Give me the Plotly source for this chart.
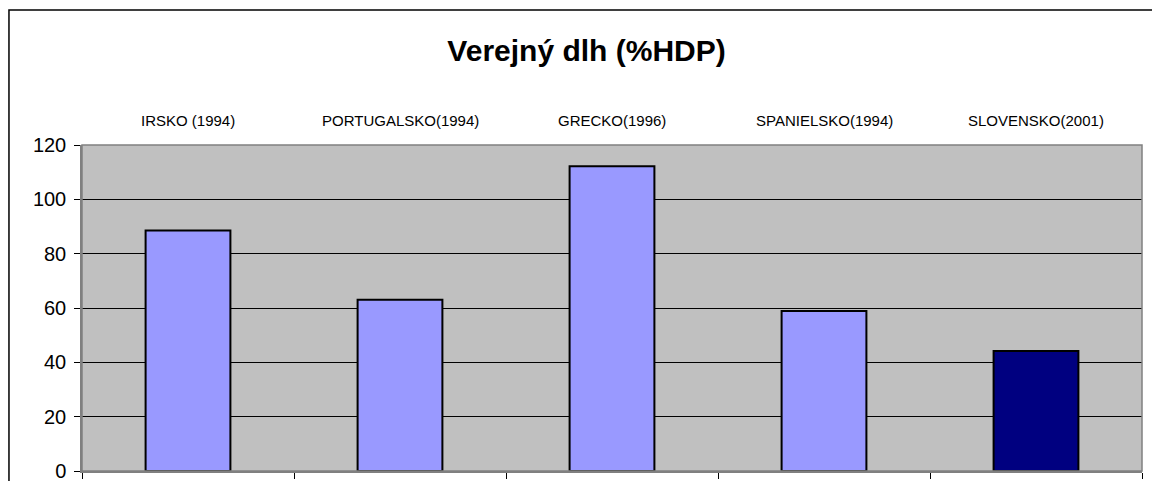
import plotly.graph_objects as go

categories = ["IRSKO (1994)", "PORTUGALSKO(1994)", "GRECKO(1996)", "SPANIELSKO(1994)", "SLOVENSKO(2001)"]
values = [88.5, 63.0, 112.2, 58.9, 44.2]
bar_colors = ["#9999FF", "#9999FF", "#9999FF", "#9999FF", "#000080"]
y_ticks = [0, 20, 40, 60, 80, 100, 120]
title_text = "Verejný dlh (%HDP)"

FONT = "Liberation Sans, Arial, sans-serif"

FIG_W, FIG_H = 1152, 481

fig = go.Figure()
fig.add_trace(go.Bar(
    x=categories, y=values,
    marker=dict(color=bar_colors, line=dict(color="#000000", width=2)),
    hoverinfo="x+y",
))

# category labels above the plot area
for c in categories:
    fig.add_annotation(x=c, y=1.074, xref="x", yref="paper", text=c,
                       showarrow=False, font=dict(family=FONT, size=15, color="#000000"),
                       xanchor="center", yanchor="middle")

# plot frame (gray)
fig.add_shape(type="rect", xref="paper", yref="paper", x0=0, x1=1, y0=0, y1=1,
              line=dict(color="#808080", width=1.5), fillcolor="rgba(0,0,0,0)", layer="above")
# outer chart border (cropped on right/bottom)
fig.add_shape(type="rect", xref="paper", yref="paper", x0=-0.0689, x1=1.03, y0=-0.06, y1=1.414,
              line=dict(color="#000000", width=1.5), fillcolor="rgba(0,0,0,0)")

fig.update_layout(
    width=FIG_W, height=FIG_H,
    margin=dict(l=82, r=10, t=145, b=10, autoexpand=False),
    paper_bgcolor="#FFFFFF",
    plot_bgcolor="#C0C0C0",
    showlegend=False,
    bargap=0.6,
    title=dict(text="<b>" + title_text + "</b>", x=0.476, xref="paper", xanchor="center",
               y=1 - 50 / FIG_H, yanchor="middle",
               font=dict(family=FONT, size=30, color="#000000")),
    xaxis=dict(
        type="category", categoryorder="array", categoryarray=categories,
        showticklabels=False, tickson="boundaries", ticks="outside", ticklen=6,
        tickcolor="#000000", tickwidth=1, showgrid=False, zeroline=False,
        showline=True, linecolor="#808080", linewidth=1.5, automargin=False,
    ),
    yaxis=dict(
        range=[0, 120], tickvals=y_ticks, ticks="outside", ticklen=6,
        tickcolor="#000000", tickwidth=1,
        showgrid=True, gridcolor="#000000", gridwidth=1, zeroline=False,
        showline=True, linecolor="#808080", linewidth=1.5, automargin=False,
        ticklabeloverflow="allow", ticklabelstandoff=4,
        tickfont=dict(family=FONT, size=20, color="#000000"),
    ),
)

# remove the default 8px page margin so the figure fills the window exactly
fig.write_html("out.html", config={"displayModeBar": False},
               post_script="document.body.style.margin='0';")
